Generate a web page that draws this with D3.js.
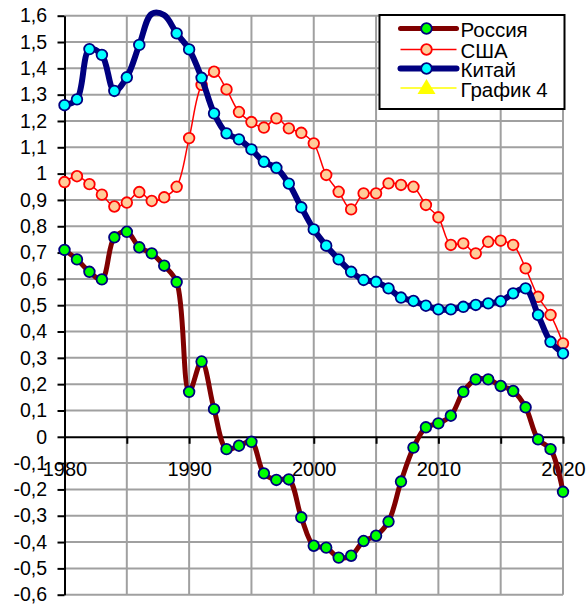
<!DOCTYPE html>
<html>
<head>
<meta charset="utf-8">
<script src="https://cdn.jsdelivr.net/npm/d3@7"></script>
<style>
  body { margin: 0; background: #fff; }
  svg text { font-family: "Liberation Sans", Arial, sans-serif; fill: #000; }
</style>
</head>
<body>
<div id="chart"></div>
<script>
var years = d3.range(1980, 2021);
var russia = [0.71, 0.674, 0.627, 0.598, 0.758, 0.779, 0.72, 0.697, 0.65, 0.588,
    0.171, 0.286, 0.105, -0.047, -0.034, -0.019, -0.139, -0.164, -0.162, -0.306,
    -0.414, -0.421, -0.459, -0.452, -0.396, -0.376, -0.322, -0.17, -0.041, 0.036,
    0.051, 0.08, 0.171, 0.218, 0.218, 0.193, 0.174, 0.112, -0.01, -0.047, -0.209];
var usa = [0.968, 0.99, 0.96, 0.92, 0.875, 0.89, 0.93, 0.896, 0.91, 0.95,
    1.135, 1.337, 1.387, 1.32, 1.234, 1.196, 1.175, 1.21, 1.172, 1.155,
    1.115, 0.995, 0.931, 0.864, 0.925, 0.925, 0.963, 0.957, 0.95, 0.881,
    0.834, 0.729, 0.735, 0.697, 0.741, 0.745, 0.729, 0.64, 0.532, 0.463, 0.355];
var china = [1.26, 1.282, 1.473, 1.451, 1.314, 1.366, 1.489, 1.607, 1.602, 1.533,
    1.472, 1.364, 1.229, 1.153, 1.13, 1.092, 1.045, 1.022, 0.962, 0.872,
    0.788, 0.726, 0.674, 0.627, 0.596, 0.589, 0.564, 0.529, 0.516, 0.498,
    0.484, 0.484, 0.494, 0.501, 0.507, 0.515, 0.545, 0.564, 0.463, 0.361, 0.317];
var chinaNoMarker = [1987, 1988];
var seriesNames = ["Россия", "США", "Китай", "График 4"];
var xLabelYears = [1980, 1990, 2000, 2010, 2020];
var xTickYears = d3.range(1980, 2021, 5);
var yTicks = d3.range(-6, 17).map(function(d) { return d / 10; });

var w = 588, h = 605;
var svg = d3.select("#chart").append("svg")
    .attr("width", w)
    .attr("height", h);

var x = d3.scaleLinear().domain([1980, 2020]).range([64.5, 563]);
var y = d3.scaleLinear().domain([-0.6, 1.6]).range([594.7, 15.7]);

function fmt(v) {
    return (Math.round(v * 10) / 10).toString().replace(".", ",");
}

// grid
var grid = svg.append("g").attr("class", "grid");
grid.selectAll(".hgrid")
    .data(yTicks.filter(function(d) { return Math.abs(d) > 1e-9; }))
    .enter().append("line")
    .attr("x1", x(1980)).attr("x2", x(2020))
    .attr("y1", function(d) { return y(d); })
    .attr("y2", function(d) { return y(d); })
    .attr("stroke", "#a0a0a0")
    .attr("stroke-width", 2);
grid.selectAll(".vgrid")
    .data(xTickYears.filter(function(d) { return d > 1980; }))
    .enter().append("line")
    .attr("y1", y(1.6)).attr("y2", y(-0.6))
    .attr("x1", function(d) { return x(d); })
    .attr("x2", function(d) { return x(d); })
    .attr("stroke", "#a0a0a0")
    .attr("stroke-width", 2);

// axes
var yAxis = svg.append("g")
    .attr("transform", "translate(" + x(1980) + ",0)")
    .call(d3.axisLeft(y).tickValues(yTicks).tickSize(7).tickSizeOuter(0)
        .tickPadding(10.5).tickFormat(fmt));
yAxis.selectAll("path, line").attr("stroke", "#000").attr("stroke-width", 2);
yAxis.selectAll("text").style("font-size", "19.5px");

var xAxis = svg.append("g")
    .attr("transform", "translate(0," + y(0) + ")")
    .call(d3.axisBottom(x).tickValues(xTickYears).tickSize(7).tickSizeOuter(0)
        .tickFormat(function(d) { return xLabelYears.indexOf(d) >= 0 ? d : ""; }));
xAxis.selectAll("path, line").attr("stroke", "#000").attr("stroke-width", 2);
xAxis.selectAll("text")
    .attr("y", 39.5).attr("dy", 0)
    .style("font-size", "20px");
yAxis.raise();

// series
var styles = [
    { values: russia, line: "#800000", width: 5, fill: "#00ff00", stroke: "#000080" },
    { values: usa, line: "#ff0000", width: 1.5, fill: "#ffcc99", stroke: "#ff0000" },
    { values: china, line: "#000080", width: 6, fill: "#00ffff", stroke: "#000080" }
];

var line = d3.line()
    .x(function(d) { return x(d[0]); })
    .y(function(d) { return y(d[1]); })
    .curve(d3.curveCatmullRom.alpha(0.5));

styles.forEach(function(s, i) {
    var pts = years.map(function(yr, k) { return [yr, s.values[k]]; });
    var g = svg.append("g").attr("class", "series");
    g.append("path")
        .datum(pts)
        .attr("d", line)
        .attr("fill", "none")
        .attr("stroke", s.line)
        .attr("stroke-width", s.width)
        .attr("stroke-linejoin", "round")
        .attr("stroke-linecap", "round");
    g.selectAll("circle")
        .data(pts.filter(function(p) { return i !== 2 || chinaNoMarker.indexOf(p[0]) < 0; }))
        .enter().append("circle")
        .attr("cx", function(d) { return x(d[0]); })
        .attr("cy", function(d) { return y(d[1]); })
        .attr("r", 5.3)
        .attr("fill", s.fill)
        .attr("stroke", s.stroke)
        .attr("stroke-width", 1.8);
});

// legend
var legend = svg.append("g").attr("transform", "translate(379.5,15)");
legend.append("rect")
    .attr("width", 185).attr("height", 94)
    .attr("fill", "#fff")
    .attr("stroke", "#000")
    .attr("stroke-width", 2);
var legendStyles = styles.concat([{ line: "#ffff00", width: 1.5, fill: "#ffff00", stroke: "#ffff00", tri: true }]);
var rowY = [13.5, 34.5, 53.5, 73];
seriesNames.forEach(function(name, i) {
    var s = legendStyles[i];
    var row = legend.append("g").attr("transform", "translate(0," + rowY[i] + ")");
    row.append("line")
        .attr("x1", 21).attr("x2", 77)
        .attr("stroke", s.line)
        .attr("stroke-width", s.width)
        .attr("stroke-linecap", s.width > 3 ? "round" : "butt");
    if (s.tri) {
        row.append("path")
            .attr("d", "M47,-9 L56,6 L38,6 Z")
            .attr("fill", s.fill);
    } else {
        row.append("circle")
            .attr("cx", 47).attr("r", 5.3)
            .attr("fill", s.fill)
            .attr("stroke", s.stroke)
            .attr("stroke-width", 1.8);
    }
    row.append("text")
        .attr("x", 81)
        .attr("y", 8.5)
        .style("font-size", "20.5px")
        .text(name);
});
</script>
</body>
</html>
